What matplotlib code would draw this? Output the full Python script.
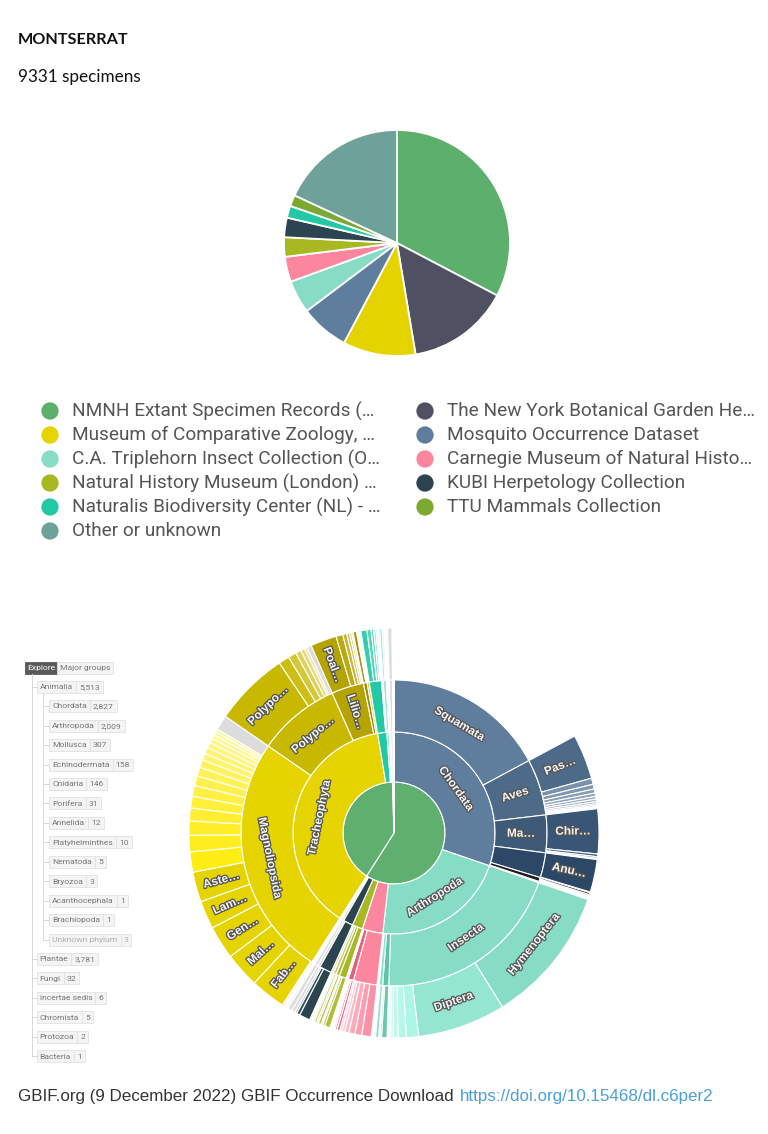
import numpy as np
import matplotlib
matplotlib.use("Agg")
import matplotlib.pyplot as plt
import matplotlib.patheffects as pe
from matplotlib.patches import Rectangle
from matplotlib.colors import to_rgb

W, H = 768, 1134

# ---------------- data: publishers pie ----------------
PUBLISHERS = ["NMNH Extant Specimen Records (…", "The New York Botanical Garden He…",
              "Museum of Comparative Zoology, …", "Mosquito Occurrence Dataset",
              "C.A. Triplehorn Insect Collection (O…", "Carnegie Museum of Natural Histo…",
              "Natural History Museum (London) …", "KUBI Herpetology Collection",
              "Naturalis Biodiversity Center (NL) - …", "TTU Mammals Collection",
              "Other or unknown"]
PUB_COUNTS = [3050, 1370, 970, 650, 440, 335, 260, 260, 160, 150, 1686]

# ---------------- data: taxonomy ----------------
KINGDOMS = ["Animalia", "Plantae", "Fungi", "incertae sedis", "Chromista", "Protozoa", "Bacteria"]
KINGDOM_N = [5513, 3781, 32, 6, 5, 2, 1]

ANIMAL_PHYLA = ["Chordata", "Arthropoda", "Mollusca", "Echinodermata", "Cnidaria", "Porifera",
                "Annelida", "Platyhelminthes", "Nematoda", "Bryozoa", "Acanthocephala",
                "Brachiopoda", "Unknown phylum"]
ANIMAL_PHYLA_N = [2827, 2009, 307, 158, 146, 31, 12, 10, 5, 3, 1, 1, 3]

PLANT_PHYLA = ["Tracheophyta", "Bryophyta", "Marchantiophyta", "Chlorophyta", "Rhodophyta"]
PLANT_PHYLA_N = [3585, 137, 35, 14, 10]

# classes
CHORDATA_CL = ["Squamata", "Aves", "Mammalia", "Amphibia", "Actinopterygii"]
CHORDATA_CL_N = [1603, 555, 371, 246, 39]
ARTHROPODA_CL = ["Insecta", "Arachnida", "Malacostraca", "Diplopoda", "Chilopoda"]
ARTHROPODA_CL_N = [1894, 60, 35, 12, 8]
MOLLUSCA_CL = ["Gastropoda", "Bivalvia", "Polyplacophora", "Cephalopoda"]
MOLLUSCA_CL_N = [233, 52, 12, 10]
ECHINO_CL = ["Echinoidea", "Asteroidea", "Ophiuroidea", "Holothuroidea"]
ECHINO_CL_N = [70, 35, 30, 23]
CNIDARIA_CL = ["Anthozoa", "Hydrozoa"]
CNIDARIA_CL_N = [120, 26]
TRACHEO_CL = ["Magnoliopsida", "Polypodiopsida", "Liliopsida", "Lycopodiopsida", "Pinopsida"]
TRACHEO_CL_N = [2392, 817, 319, 35, 22]
BRYO_CL = ["Bryopsida", "Sphagnopsida", "Andreaeopsida"]
BRYO_CL_N = [120, 10, 7]
MARCH_CL = ["Jungermanniopsida", "Marchantiopsida"]
MARCH_CL_N = [30, 5]

# orders
AVES_OR = ["Passeriformes", "Columbiformes", "Apodiformes", "Charadriiformes", "Falconiformes",
           "Cuculiformes", "Pelecaniformes", "Accipitriformes", "Galliformes", "Psittaciformes",
           "Caprimulgiformes", "Procellariiformes"]
AVES_OR_N = [330, 45, 35, 30, 25, 20, 18, 15, 12, 10, 8, 7]
MAMMAL_OR = ["Chiroptera", "Rodentia", "Carnivora", "Artiodactyla"]
MAMMAL_OR_N = [330, 20, 12, 9]
AMPHIB_OR = ["Anura"]
AMPHIB_OR_N = [240]
ACTINO_OR = ["Perciformes", "Cypriniformes", "Siluriformes"]
ACTINO_OR_N = [15, 10, 8]
INSECTA_OR = ["Hymenoptera", "Diptera", "Lepidoptera", "Coleoptera", "Hemiptera", "Orthoptera",
              "Odonata", "Blattodea"]
INSECTA_OR_N = [1014, 649, 90, 60, 35, 20, 14, 12]
ARACHNIDA_OR = ["Araneae", "Scorpiones", "Opiliones"]
ARACHNIDA_OR_N = [40, 12, 8]
MALACO_OR = ["Decapoda", "Isopoda"]
MALACO_OR_N = [25, 10]
GASTRO_OR = ["Stylommatophora", "Littorinimorpha", "Neogastropoda", "Cycloneritida", "Trochida",
             "Caenogastropoda"]
GASTRO_OR_N = [70, 50, 45, 30, 20, 18]
BIVALVIA_OR = ["Venerida", "Arcida", "Ostreida", "Pectinida"]
BIVALVIA_OR_N = [20, 15, 10, 7]
ECHINOIDEA_OR = ["Camarodonta", "Cidaroida", "Diadematoida"]
ECHINOIDEA_OR_N = [40, 18, 12]
ASTEROIDEA_OR = ["Valvatida", "Forcipulatida"]
ASTEROIDEA_OR_N = [20, 15]
OPHIURO_OR = ["Ophiurida", "Amphilepidida"]
OPHIURO_OR_N = [18, 12]
ANTHOZOA_OR = ["Scleractinia", "Alcyonacea", "Actiniaria"]
ANTHOZOA_OR_N = [80, 25, 15]
MAGNOLIO_OR = ["Unknown order", "Fabales", "Malpighiales", "Gentianales", "Lamiales", "Asterales",
               "Myrtales", "Sapindales", "Rosales", "Caryophyllales", "Ericales", "Solanales",
               "Malvales", "Boraginales", "Piperales", "Laurales", "Apiales", "Santalales",
               "Celastrales", "Cucurbitales", "Brassicales", "Ranunculales", "Unknown order "]
MAGNOLIO_OR_N = [13, 259, 259, 246, 208, 220,
                 150, 120, 105, 95, 85, 80, 72, 65, 58, 50, 45, 40, 35, 30, 25, 22, 109]
POLYPOD_OR = ["Polypodiales", "Hymenophyllales", "Cyatheales", "Gleicheniales", "Schizaeales",
              "Marattiales", "Unknown order  "]
POLYPOD_OR_N = [553, 80, 60, 40, 30, 20, 34]
LILIO_OR = ["Poales", "Asparagales", "Arecales", "Zingiberales", "Alismatales", "Commelinales"]
LILIO_OR_N = [192, 50, 30, 20, 15, 12]
LYCO_OR = ["Selaginellales", "Lycopodiales"]
LYCO_OR_N = [25, 10]
BRYOPSIDA_OR = ["Hypnales", "Dicranales", "Bryales", "Pottiales", "Hookeriales"]
BRYOPSIDA_OR_N = [45, 30, 20, 15, 10]
JUNGER_OR = ["Porellales", "Jungermanniales"]
JUNGER_OR_N = [18, 12]

# ---------------- styles ----------------
PUB_COLORS = ["#5daf6c", "#4f5163", "#e5d300", "#5f7d9c", "#86dcc4", "#fc869e",
              "#a8b823", "#2b4450", "#23c9a5", "#7ba932", "#6fa19b"]
GREEN = "#5fb06f"
GRAY = "#dcdcdc"
BASE_COLORS = {
    "Chordata": "#5f7d9c", "Squamata": "#5f7d9c", "Aves": "#4d6a88", "Mammalia": "#3e5a79",
    "Amphibia": "#2c4866", "Actinopterygii": "#1e1e1e", "Passeriformes": "#4d6a88",
    "Chiroptera": "#3a5676", "Anura": "#2c4866",
    "Arthropoda": "#86dcc4", "Insecta": "#86dcc4", "Hymenoptera": "#86dcc4", "Diptera": "#94e6d0",
    "Arachnida": "#5cc4a8",
    "Mollusca": "#fc869e", "Gastropoda": "#fc869e", "Bivalvia": "#e0607e",
    "Echinodermata": "#a8b823", "Echinoidea": "#a8b823",
    "Cnidaria": "#2b4450", "Anthozoa": "#2b4450", "Scleractinia": "#2b4450",
    "Tracheophyta": "#e6d400", "Magnoliopsida": "#e6d400", "Polypodiopsida": "#c9b800",
    "Liliopsida": "#b5a300", "Lycopodiopsida": "#9c8c00", "Pinopsida": "#d6c84a",
    "Fabales": "#e6d400", "Malpighiales": "#e6d400", "Gentianales": "#e6d400",
    "Lamiales": "#e6d400", "Asterales": "#e6d400",
    "Polypodiales": "#c9b800", "Poales": "#b5a300",
    "Bryophyta": "#23c9a5", "Bryopsida": "#23c9a5", "Marchantiophyta": "#8fe3d0",
    "Chlorophyta": "#c6f2e7",
}
THIN_BASE = {"Magnoliopsida": "#ffeb00", "Insecta": "#a6f5e4", "Aves": "#6b87a4"}

LABELS = {"Chordata": "Chordata", "Squamata": "Squamata", "Aves": "Aves", "Mammalia": "Ma…",
          "Passeriformes": "Pas…", "Chiroptera": "Chir…", "Anura": "Anu…",
          "Arthropoda": "Arthropoda", "Insecta": "Insecta", "Hymenoptera": "Hymenoptera",
          "Diptera": "Diptera", "Tracheophyta": "Tracheophyta", "Magnoliopsida": "Magnoliopsida",
          "Polypodiopsida": "Polypo…", "Liliopsida": "Lilio…", "Fabales": "Fab…",
          "Malpighiales": "Mal…", "Gentianales": "Gen…", "Lamiales": "Lam…",
          "Asterales": "Aste…", "Polypodiales": "Polypo…", "Poales": "Poal…"}


def tint(color, amount):
    r, g, b = to_rgb(color)
    return (r + (1 - r) * amount, g + (1 - g) * amount, b + (1 - b) * amount)


def build_ring(parents, groups, fill_gray=False):
    names, vals, cols = [], [], []
    for pname, pn, pcol in parents:
        rest = pn
        if pname in groups:
            cn, cv = groups[pname]
            thin = [n for n in cn if n not in BASE_COLORS and not n.startswith("Unknown")]
            base = THIN_BASE.get(pname, pcol if pcol else GRAY)
            for n, v in zip(cn, cv):
                if n.startswith("Unknown"):
                    c = GRAY
                elif n in BASE_COLORS:
                    c = BASE_COLORS[n]
                else:
                    k = thin.index(n)
                    c = tint(base, 0.08 + 0.55 * k / max(len(thin) - 1, 1))
                names.append(n); vals.append(v); cols.append(c)
                rest -= v
        if rest > 0:
            gray = fill_gray or pcol == GRAY
            names.append(""); vals.append(rest); cols.append(GRAY if gray else None)
    return names, vals, cols


ring1 = [(n, v, GREEN) for n, v in zip(KINGDOMS, KINGDOM_N)]
phyla_groups = {"Animalia": (ANIMAL_PHYLA, ANIMAL_PHYLA_N), "Plantae": (PLANT_PHYLA, PLANT_PHYLA_N)}
n2, v2, c2 = build_ring(ring1, phyla_groups, fill_gray=True)
c2 = [BASE_COLORS.get(n, GRAY) for n in n2]
ring2 = list(zip(n2, v2, c2))
class_groups = {"Chordata": (CHORDATA_CL, CHORDATA_CL_N), "Arthropoda": (ARTHROPODA_CL, ARTHROPODA_CL_N),
                "Mollusca": (MOLLUSCA_CL, MOLLUSCA_CL_N), "Echinodermata": (ECHINO_CL, ECHINO_CL_N),
                "Cnidaria": (CNIDARIA_CL, CNIDARIA_CL_N), "Tracheophyta": (TRACHEO_CL, TRACHEO_CL_N),
                "Bryophyta": (BRYO_CL, BRYO_CL_N), "Marchantiophyta": (MARCH_CL, MARCH_CL_N)}
n3, v3, c3 = build_ring(ring2, class_groups)
c3 = [GRAY if n == "Hydrozoa" else c for n, c in zip(n3, c3)]
ring3 = list(zip(n3, v3, c3))
order_groups = {"Aves": (AVES_OR, AVES_OR_N), "Mammalia": (MAMMAL_OR, MAMMAL_OR_N),
                "Amphibia": (AMPHIB_OR, AMPHIB_OR_N), "Actinopterygii": (ACTINO_OR, ACTINO_OR_N),
                "Insecta": (INSECTA_OR, INSECTA_OR_N), "Arachnida": (ARACHNIDA_OR, ARACHNIDA_OR_N),
                "Malacostraca": (MALACO_OR, MALACO_OR_N), "Gastropoda": (GASTRO_OR, GASTRO_OR_N),
                "Bivalvia": (BIVALVIA_OR, BIVALVIA_OR_N), "Echinoidea": (ECHINOIDEA_OR, ECHINOIDEA_OR_N),
                "Asteroidea": (ASTEROIDEA_OR, ASTEROIDEA_OR_N), "Ophiuroidea": (OPHIURO_OR, OPHIURO_OR_N),
                "Anthozoa": (ANTHOZOA_OR, ANTHOZOA_OR_N), "Magnoliopsida": (MAGNOLIO_OR, MAGNOLIO_OR_N),
                "Polypodiopsida": (POLYPOD_OR, POLYPOD_OR_N), "Liliopsida": (LILIO_OR, LILIO_OR_N),
                "Lycopodiopsida": (LYCO_OR, LYCO_OR_N), "Bryopsida": (BRYOPSIDA_OR, BRYOPSIDA_OR_N),
                "Jungermanniopsida": (JUNGER_OR, JUNGER_OR_N)}
n4, v4, c4 = build_ring(ring3, order_groups)
c4 = [GRAY if n == "Actinopterygii" else c for n, c in zip(n4, c4)]

fig = plt.figure(figsize=(W / 100, H / 100), dpi=100)
fig.patch.set_facecolor("white")


def px_axes(cx, cy, half):
    return fig.add_axes([(cx - half) / W, 1 - (cy + half) / H, 2 * half / W, 2 * half / H])


# ---------------- top pie ----------------
axp = px_axes(397, 243, 120)
axp.pie(PUB_COUNTS, colors=PUB_COLORS, radius=113, startangle=90, counterclock=False,
        wedgeprops=dict(edgecolor="white", linewidth=1.3))
axp.set_xlim(-120, 120)
axp.set_ylim(-120, 120)

# ---------------- sunburst ----------------
axs = px_axes(394, 833, 212)
RADII = [0, 51, 101, 153, 205]
label_fx = [pe.Stroke(linewidth=1.8, foreground="#555555"), pe.Normal()]


def upright(a):
    a = (a + 180) % 360 - 180
    if a > 90:
        a -= 180
    elif a < -90:
        a += 180
    return a


rings = [(KINGDOMS, KINGDOM_N, [GREEN] * len(KINGDOMS)),
         (n2, v2, c2), (n3, v3, c3), (n4, v4, c4)]
for i, (names, vals, cols) in enumerate(rings):
    r_in, r_out = RADII[i], RADII[i + 1]
    wedges, _ = axs.pie(vals, radius=r_out, startangle=90, counterclock=False,
                        colors=[c if c is not None else "white" for c in cols],
                        wedgeprops=dict(width=r_out - r_in, edgecolor="white", linewidth=0.8))
    for w, n, c in zip(wedges, names, cols):
        if c is None:
            w.set_visible(False)
            continue
        if n not in LABELS:
            continue
        phi = 0.5 * (w.theta1 + w.theta2)
        rm = 0.5 * (r_in + r_out)
        arc = np.radians(w.theta2 - w.theta1) * rm
        rot = upright(phi - 90) if arc > (r_out - r_in) else upright(phi)
        x = rm * np.cos(np.radians(phi))
        y = rm * np.sin(np.radians(phi))
        axs.text(x, y, LABELS[n], rotation=rot, rotation_mode="anchor", ha="center", va="center",
                 fontsize=8.5, fontweight="bold", family="Liberation Sans", color="#f6f6f6",
                 path_effects=label_fx)
axs.set_xlim(-212, 212)
axs.set_ylim(-212, 212)
axs.set_aspect("equal")

# ---------------- overlay: texts, legend, tree ----------------
ax0 = fig.add_axes([0, 0, 1, 1])
ax0.set_xlim(0, W)
ax0.set_ylim(H, 0)
ax0.axis("off")

ax0.text(18, 40, "MONTSERRAT", fontsize=11.7, fontweight="bold", family="Lato", color="#111111",
         va="center")
ax0.text(18, 77, "9331 specimens", fontsize=12.3, family="Lato", color="#111111", va="center")

for i, (name, col) in enumerate(zip(PUBLISHERS, PUB_COLORS)):
    row, colno = i // 2, i % 2
    x = 50 if colno == 0 else 425
    y = 411 + 24 * row
    ax0.scatter([x], [y], s=155, color=col, edgecolors="none")
    ax0.text(x + 22, y, name, fontsize=13.7, family="Roboto", color="#555555", va="center")

renderer = fig.canvas.get_renderer()
TREE_FS = 6.1


def tag(x, y, label, count, color="#777777"):
    t1 = ax0.text(x + 3, y + 0.3, label, fontsize=TREE_FS, family="Roboto", color=color,
                  va="center", zorder=3)
    w1 = t1.get_window_extent(renderer).width
    x1 = x + w1 + 6
    ax0.add_patch(Rectangle((x, y - 6), x1 - x, 12, fc="#f4f4f4", ec="#e2e2e2", lw=0.6, zorder=2))
    t2 = ax0.text(x1 + 3, y + 0.3, f"{count:,}", fontsize=TREE_FS, family="Roboto", color=color,
                  va="center", zorder=3)
    w2 = t2.get_window_extent(renderer).width
    ax0.add_patch(Rectangle((x1, y - 6), w2 + 6, 12, fc="#f4f4f4", ec="#e2e2e2", lw=0.6, zorder=2))


ax0.add_patch(Rectangle((25, 662), 32, 12, fc="#5a5a5a", ec="#5a5a5a", lw=0.6))
ax0.text(41, 668.3, "Explore", fontsize=TREE_FS, family="Roboto", color="white", ha="center", va="center")
ax0.add_patch(Rectangle((57, 662), 56, 12, fc="#f4f4f4", ec="#e2e2e2", lw=0.6))
ax0.text(60, 668.3, "Major groups", fontsize=TREE_FS, family="Roboto", color="#777777", va="center")

STEP = 19.45
y = 686.7
ys_k = []
for kname, kn in zip(KINGDOMS, KINGDOM_N):
    ys_k.append(y)
    tag(36.7, y, kname, kn)
    y += STEP
    if kname == "Animalia":
        for pname, pn in zip(ANIMAL_PHYLA, ANIMAL_PHYLA_N):
            c = "#b0b0b0" if pname.startswith("Unknown") else "#777777"
            tag(49.3, y, pname, pn, color=c)
            ax0.plot([43.3, 49.3], [y, y], color="#d8d8d8", lw=0.7)
            y_last = y
            y += STEP
        ax0.plot([43.3, 43.3], [692.5, y_last], color="#d8d8d8", lw=0.7)
for yk in ys_k:
    ax0.plot([31.7, 36.7], [yk, yk], color="#d8d8d8", lw=0.7)
ax0.plot([31.7, 31.7], [674, ys_k[-1]], color="#d8d8d8", lw=0.7)

ax0.text(18, 1096, "GBIF.org (9 December 2022) GBIF Occurrence Download", fontsize=12.25,
         family="Liberation Sans", color="#333333", va="center")
ax0.text(460, 1096, "https://doi.org/10.15468/dl.c6per2", fontsize=12.25,
         family="Liberation Sans", color="#4a9fd8", va="center")

fig.savefig("out.png", dpi=100, facecolor="white")
